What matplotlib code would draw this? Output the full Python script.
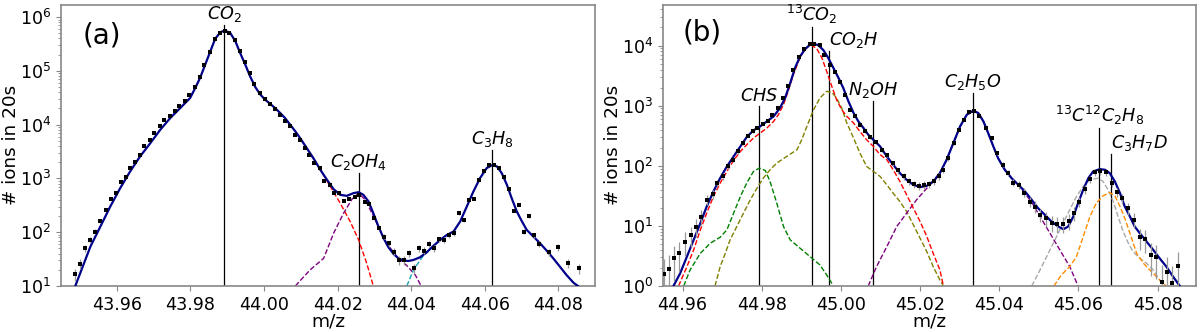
import numpy as np
import matplotlib
matplotlib.use('Agg')
import matplotlib.pyplot as plt

# ---------------- panel (a): m/z 44 ----------------
mz_a = [43.9487, 43.9501, 43.9514, 43.9528, 43.9541, 43.9555, 43.9571, 43.9584, 43.9598, 43.9611,
        43.9625, 43.9636, 43.9650, 43.9663, 43.9675, 43.9689, 43.9701, 43.9716, 43.9729, 43.9743,
        43.9757, 43.9770, 43.9784, 43.9797, 43.9811, 43.9825, 43.9838, 43.9852, 43.9866, 43.9879,
        43.9893, 43.9906, 43.9920, 43.9934, 43.9947, 43.9961, 43.9974, 43.9988, 44.0002, 44.0015,
        44.0029, 44.0043, 44.0056, 44.0070, 44.0083, 44.0097, 44.0110, 44.0123, 44.0137, 44.0151,
        44.0164, 44.0178, 44.0191, 44.0205, 44.0218, 44.0232, 44.0246, 44.0259, 44.0273, 44.0286,
        44.0300, 44.0313, 44.0326, 44.0340, 44.0354, 44.0368, 44.0381, 44.0394, 44.0408, 44.0421,
        44.0435, 44.0449, 44.0462, 44.0476, 44.0490, 44.0503, 44.0517, 44.0531, 44.0544, 44.0558,
        44.0571, 44.0585, 44.0599, 44.0612, 44.0626, 44.0639, 44.0653, 44.0667, 44.0680, 44.0694,
        44.0707, 44.0719, 44.0734, 44.0748, 44.0775, 44.0800, 44.0827, 44.0856]
counts_a = [16.7, 26, 50, 72, 103, 164, 260, 411, 532, 840,
            1040, 1550, 1980, 2750, 3930, 5230, 6970, 9270, 12000, 14650,
            18150, 21800, 27900, 35000, 50100, 76900, 126700, 224400, 392000, 507000,
            544000, 507000, 381000, 230700, 143900, 91300, 57800, 38700, 30400, 24200,
            19500, 15300, 11800, 9540, 6480, 5230, 3660, 2750, 1930, 1550,
            914, 760, 547, 532, 383, 417, 460, 495, 372, 336,
            182, 119, 83, 62, 43.5, 30.5, 30.5, 40.6, 21.4, 50,
            45.4, 59.7, 50, 74, 72, 89, 96, 226, 169, 400,
            411, 942, 1346, 1740, 1740, 1550, 1085, 640, 252, 322,
            103, 201, 89, 59.7, 42.5, 52.5, 27.2, 21.4]

fit_mz_a = [43.9487, 43.9528, 43.9555, 43.9582, 43.9609, 43.9636, 43.9663, 43.9691, 43.9718, 43.9745,
            43.9772, 43.9799, 43.9813, 43.9826, 43.9840, 43.9854, 43.9867, 43.9881, 43.9893, 43.9908,
            43.9922, 43.9935, 43.9949, 43.9962, 43.9976, 43.9990, 44.0003, 44.0017, 44.0030, 44.0044,
            44.0057, 44.0071, 44.0085, 44.0098, 44.0116, 44.0134, 44.0153, 44.0171, 44.0189, 44.0207,
            44.0225, 44.0243, 44.0257, 44.0270, 44.0284, 44.0297, 44.0311, 44.0325, 44.0338, 44.0352,
            44.0365, 44.0379, 44.0393, 44.0406, 44.0424, 44.0442, 44.0460, 44.0479, 44.0497, 44.0515,
            44.0533, 44.0551, 44.0569, 44.0587, 44.0605, 44.0620, 44.0633, 44.0646, 44.0660, 44.0673,
            44.0687, 44.0701, 44.0714, 44.0732, 44.0750, 44.0768, 44.0786, 44.0804, 44.0822, 44.0841,
            44.0853]
fit_a = [10, 54, 127, 300, 659, 1346, 2560, 4540, 8040, 13250,
         20300, 31260, 48000, 73600, 130300, 231000, 392000, 522000, 561000, 507000,
         355000, 215000, 130300, 79100, 50100, 36100, 29100, 24200, 20300, 16400,
         13250, 9960, 7480, 5620, 3660, 2385, 1445, 942, 631, 495,
         474, 532, 555, 495, 372, 225, 127, 77, 52.5, 39.4,
         32.7, 29.6, 29.2, 30.5, 34.2, 42.4, 55.6, 71.9, 89, 103,
         158, 300, 571, 1012, 1553, 1767, 1668, 1253, 760, 429,
         242, 158, 110, 83, 62.4, 45.5, 32.7, 22.9, 16, 11.5,
         10]

co2_mz_a = [44.0116, 44.0153, 44.0180, 44.0207, 44.0234, 44.0257, 44.0279, 44.0297]
co2_a = [3660, 1445, 708, 346, 158, 72, 26.4, 10]

c2oh4_mz_a = [44.0085, 44.0125, 44.0162, 44.0189, 44.0216, 44.0239, 44.0257, 44.0275, 44.0297,
              44.0315, 44.0333, 44.0361, 44.0388, 44.0411, 44.0427]
c2oh4_a = [10, 19.9, 32.7, 95.7, 225, 411, 532, 399, 201, 110, 62.4, 35.2, 23.9, 16, 10]

c3h8_mz_a = [44.0388, 44.0406, 44.0431, 44.0460, 44.0487, 44.0497]
c3h8_a = [10, 19.9, 35.2, 54, 80.6, 89]

labels_a = ['$CO_2$', '$C_2OH_4$', '$C_3H_8$']
lines_mz_a = [43.9892, 44.0257, 44.0620]
lines_top_a = [7.2e5, 1260, 3400]

# ---------------- panel (b): m/z 45 ----------------
mz_b = [44.9552, 44.9565, 44.9579, 44.9592, 44.9607, 44.9621, 44.9635, 44.9647, 44.9662, 44.9676,
        44.9688, 44.9702, 44.9715, 44.9727, 44.9740, 44.9752, 44.9765, 44.9778, 44.9789, 44.9802,
        44.9815, 44.9827, 44.9840, 44.9853, 44.9866, 44.9879, 44.9895, 44.9908, 44.9921, 44.9933,
        44.9946, 44.9958, 44.9973, 44.9985, 44.9998, 45.0011, 45.0023, 45.0036, 45.0048, 45.0062,
        45.0074, 45.0089, 45.0103, 45.0116, 45.0131, 45.0145, 45.0159, 45.0173, 45.0185, 45.0198,
        45.0211, 45.0223, 45.0236, 45.0249, 45.0259, 45.0271, 45.0286, 45.0298, 45.0311, 45.0324,
        45.0337, 45.0350, 45.0366, 45.0381, 45.0395, 45.0409, 45.0423, 45.0435, 45.0450, 45.0463,
        45.0477, 45.0490, 45.0504, 45.0517, 45.0532, 45.0547, 45.0562, 45.0576, 45.0589, 45.0602,
        45.0616, 45.0629, 45.0642, 45.0654, 45.0669, 45.0685, 45.0698, 45.0711, 45.0726, 45.0740,
        45.0755, 45.0768, 45.0782, 45.0797, 45.0812, 45.0824, 45.0837, 45.0852]
counts_b = [1.58, 1.90, 2.89, 3.59, 5.48, 7.08, 9.74, 14.3, 27.1, 34.1,
            51.4, 66.4, 97.5, 126, 173, 239, 316, 373, 425, 501,
            562, 708, 903, 1324, 2154, 3880, 6470, 8910, 10670, 10670,
            10130, 7080, 4820, 3590, 2450, 1525, 858, 664, 482, 373,
            301, 248, 185, 153, 111, 83.5, 66.4, 54.8, 49.5, 46.4,
            48.2, 49.5, 54.8, 66.4, 85.8, 134, 239, 398, 584, 784,
            805, 664, 425, 289, 163, 104, 75.5, 52.7, 48.2, 35.9,
            25.4, 21, 15.3, 13.4, 11.1, 10.8, 10.8, 12.1, 16.3, 25.4,
            40.9, 60, 77.4, 80.5, 77.4, 51.4, 36.4, 28.9, 19.7, 12.6,
            6.48, 6.0, 3.29, 3.08, 1.18, 1.73, 1.11, 2.15]

fit_mz_b = [44.9577, 44.9594, 44.9611, 44.9628, 44.9645, 44.9661, 44.9678, 44.9695, 44.9712, 44.9729,
            44.9746, 44.9762, 44.9779, 44.9796, 44.9813, 44.9830, 44.9846, 44.9859, 44.9872, 44.9884,
            44.9897, 44.9910, 44.9922, 44.9931, 44.9943, 44.9956, 44.9968, 44.9981, 44.9994, 45.0006,
            45.0019, 45.0032, 45.0044, 45.0057, 45.0069, 45.0082, 45.0099, 45.0116, 45.0132, 45.0149,
            45.0166, 45.0183, 45.0200, 45.0217, 45.0233, 45.0250, 45.0267, 45.0284, 45.0301, 45.0318,
            45.0334, 45.0347, 45.0360, 45.0372, 45.0385, 45.0397, 45.0414, 45.0431, 45.0448, 45.0465,
            45.0482, 45.0498, 45.0515, 45.0532, 45.0549, 45.0562, 45.0574, 45.0587, 45.0599, 45.0612,
            45.0625, 45.0637, 45.0654, 45.0667, 45.0679, 45.0692, 45.0705, 45.0717, 45.0730, 45.0742,
            45.0755, 45.0772, 45.0789, 45.0805, 45.0822, 45.0839, 45.0856]
fit_b = [1, 1.63, 3.08, 5.84, 11.1, 21, 37.4, 62.3, 97.5, 143,
         210, 300, 388, 452, 548, 664, 914, 1342, 2387, 4245,
         6640, 8800, 10400, 10800, 10130, 8360, 6230, 4245, 2890, 1970,
         1180, 755, 548, 425, 329, 271, 210, 143, 104, 75.5,
         58.4, 48.2, 44.1, 46.4, 54.8, 75.5, 126, 239, 452, 708,
         826, 755, 548, 350, 210, 134, 85.8, 62.3, 48.2, 37.4,
         27.1, 19.7, 15.3, 11.8, 9.75, 8.8, 9.75, 14.3, 23.9, 39.8,
         62.3, 80.5, 88, 85.8, 75.5, 54.8, 35, 21, 14.3, 9.75,
         7.55, 5.48, 3.98, 2.89, 2.1, 1.43, 1]

co2_13_mz_b = [44.9590, 44.9611, 44.9628, 44.9645, 44.9661, 44.9678, 44.9695, 44.9712, 44.9729, 44.9746,
               44.9762, 44.9779, 44.9796, 44.9813, 44.9830, 44.9842, 44.9855, 44.9868, 44.9880, 44.9893,
               44.9905, 44.9918, 44.9926, 44.9939, 44.9952, 44.9964, 44.9977, 44.9989, 45.0002, 45.0015,
               45.0032, 45.0048, 45.0065, 45.0082, 45.0099, 45.0116, 45.0132, 45.0149, 45.0166, 45.0183,
               45.0200, 45.0217, 45.0233, 45.0250, 45.0259]
co2_13_b = [1, 2.1, 3.98, 8.58, 16.3, 30.8, 51.4, 80.5, 123, 173,
            224, 289, 350, 425, 548, 708, 1040, 1850, 3290, 5480,
            8050, 9750, 10130, 8910, 6230, 3730, 2100, 1260, 858, 664,
            514, 373, 271, 210, 153, 126, 85.8, 54.8, 32.9, 19.7,
            11.8, 6.64, 3.5, 1.85, 1]

co2h_mz_b = [44.9682, 44.9695, 44.9708, 44.9720, 44.9737, 44.9754, 44.9771, 44.9788, 44.9804, 44.9821,
             44.9838, 44.9863, 44.9889, 44.9901, 44.9914, 44.9931, 44.9947, 44.9964, 44.9977, 44.9989,
             45.0002, 45.0015, 45.0032, 45.0048, 45.0065, 45.0082, 45.0099, 45.0116, 45.0132, 45.0149,
             45.0166, 45.0183, 45.0200, 45.0217, 45.0233, 45.0250, 45.0259]
co2h_b = [1, 2.1, 3.5, 5.84, 9.75, 16.3, 27.1, 42.4, 62.3, 85.8,
          111, 143, 185, 271, 452, 858, 1342, 1733, 1668, 1342,
          914, 514, 289, 163, 97.5, 80.5, 66.4, 48.2, 35, 25.4,
          17.3, 10.4, 6.23, 3.73, 2.1, 1.26, 1]

chs_mz_b = [44.9603, 44.9619, 44.9645, 44.9670, 44.9695, 44.9712, 44.9729, 44.9746, 44.9762, 44.9779,
            44.9794, 44.9809, 44.9821, 44.9838, 44.9855, 44.9872, 44.9897, 44.9922, 44.9947, 44.9964,
            44.9981]
chs_b = [1, 1.85, 3.5, 5.14, 6.48, 8.58, 16.3, 30.8, 51.4, 80.5,
         91.4, 83.6, 54.8, 23.9, 9.75, 5.84, 4.24, 3.08, 2.24, 1.53,
         1]

c2h5o_mz_b = [45.0069, 45.0090, 45.0116, 45.0141, 45.0166, 45.0191, 45.0217, 45.0238, 45.0250, 45.0267,
              45.0284, 45.0301, 45.0318, 45.0334, 45.0347, 45.0360, 45.0372, 45.0385, 45.0397, 45.0414,
              45.0431, 45.0448, 45.0465, 45.0486, 45.0503, 45.0528, 45.0553, 45.0578, 45.0599]
c2h5o_b = [1, 2.1, 4.52, 9.75, 16.3, 27.1, 42.4, 58.4, 75.5, 126,
           239, 452, 708, 826, 755, 548, 350, 210, 134, 85.8,
           62.3, 48.2, 35, 22.4, 14.3, 7.55, 3.98, 2.1, 1]

c13_mz_b = [45.0482, 45.0503, 45.0528, 45.0553, 45.0578, 45.0595, 45.0612, 45.0629, 45.0650, 45.0662,
            45.0675, 45.0688, 45.0700, 45.0713, 45.0726, 45.0738, 45.0755, 45.0772, 45.0789, 45.0805,
            45.0813]
c13_b = [1, 1.85, 3.98, 8.58, 18.5, 30.8, 45.2, 58.4, 62.3, 54.8,
         39.8, 25.4, 14.3, 8.05, 5.14, 3.73, 2.89, 2.39, 1.85, 1.26,
         1]

c3h7d_mz_b = [45.0538, 45.0557, 45.0578, 45.0595, 45.0612, 45.0629, 45.0645, 45.0662, 45.0679, 45.0692,
              45.0705, 45.0717, 45.0730, 45.0747, 45.0764, 45.0780, 45.0797, 45.0813, 45.0822]
c3h7d_b = [1, 1.53, 2.1, 3.08, 6.64, 14.3, 23.9, 31.6, 35.9, 31.6,
           21, 13.4, 7.55, 3.5, 2.39, 1.85, 1.43, 1.11, 1]

labels_b = ['$CHS$', '$^{13}CO_2$', '$CO_2H$', '$N_2OH$', '$C_2H_5O$', '$^{13}C^{12}C_2H_8$', '$C_3H_7D$']
lines_mz_b = [44.97936, 44.9927, 44.9971, 45.0082, 45.0334, 45.0652, 45.0682]
lines_top_b = [1000, 2.0e4, 8000, 1200, 1600, 430, 157]
label_ha_b = ['center', 'center', 'left', 'center', 'center', 'center', 'left']

FS = 12.6
AXCOL = '#888888'


def style_axes(ax, xticks, xlim, ylim):
    ax.set_yscale('log')
    ax.set_xlim(*xlim)
    ax.set_ylim(*ylim)
    ax.set_xticks(xticks)
    ax.set_xticklabels(['%.2f' % t for t in xticks])
    for sp in ax.spines.values():
        sp.set_color(AXCOL)
        sp.set_linewidth(1.2)
    ax.tick_params(which='both', colors=AXCOL, labelcolor='black', labelsize=FS)
    ax.set_xlabel('m/z', fontsize=13.3, labelpad=-1)
    ax.set_ylabel('# ions in 20s', fontsize=13.2, labelpad=0)


def draw_data(ax, x, y):
    y = np.array(y)
    ax.errorbar(x, y, yerr=np.sqrt(y), fmt='s', color='black', ms=2.7, mew=0,
                ecolor='#999999', elinewidth=0.9, capsize=2, capthick=0.9, zorder=4)


fig = plt.figure(figsize=(12, 3.32), dpi=100)
ax1 = fig.add_axes([0.0508, 0.1386, 0.4452, 0.8474])
ax2 = fig.add_axes([0.5523, 0.1386, 0.4444, 0.8474])

# panel (a)
style_axes(ax1, [43.96, 43.98, 44.00, 44.02, 44.04, 44.06, 44.08], (43.9448, 44.0900), (10, 1.7e6))
for m, top, lab in zip(lines_mz_a, lines_top_a, labels_a):
    ax1.plot([m, m], [10, top], color='black', lw=0.9, zorder=2)
    ax1.text(m, top * 1.04, lab, ha='center', va='bottom', fontsize=12.7)
ax1.plot(co2_mz_a, co2_a, '--', color='red', lw=1)
ax1.plot(c2oh4_mz_a, c2oh4_a, '--', color='purple', lw=1)
ax1.plot(c3h8_mz_a, c3h8_a, '--', color='#17a2b0', lw=1)
ax1.plot(fit_mz_a, fit_a, '-', color='#00008B', lw=1.6, zorder=3)
draw_data(ax1, mz_a, counts_a)
ax1.text(0.04, 0.89, '(a)', transform=ax1.transAxes, fontsize=20, va='center')

# panel (b)
style_axes(ax2, [44.96, 44.98, 45.00, 45.02, 45.04, 45.06, 45.08], (44.9550, 45.0897), (1, 4.8e4))
for m, top, lab, ha in zip(lines_mz_b, lines_top_b, labels_b, label_ha_b):
    ax2.plot([m, m], [1, top], color='black', lw=0.9, zorder=2)
    ax2.text(m, top * 1.04, lab, ha=ha, va='bottom', fontsize=12.7)
ax2.plot(chs_mz_b, chs_b, '--', color='green', lw=1)
ax2.plot(co2h_mz_b, co2h_b, '--', color='olive', lw=1)
ax2.plot(c2h5o_mz_b, c2h5o_b, '--', color='purple', lw=1)
ax2.plot(c13_mz_b, c13_b, '--', color='darkgray', lw=1)
ax2.plot(c3h7d_mz_b, c3h7d_b, '--', color='darkorange', lw=1)
ax2.plot(co2_13_mz_b, co2_13_b, '--', color='red', lw=1)
ax2.plot(fit_mz_b, fit_b, '-', color='#00008B', lw=1.6, zorder=3)
draw_data(ax2, mz_b, counts_b)
ax2.text(0.038, 0.90, '(b)', transform=ax2.transAxes, fontsize=20, va='center')

fig.savefig('out.png', dpi=100)
